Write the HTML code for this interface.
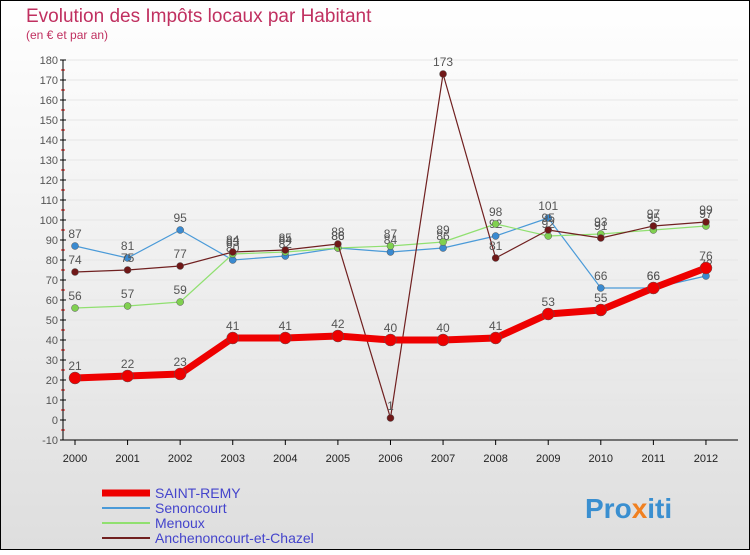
<!DOCTYPE html>
<html><head><meta charset="utf-8"><style>
body{margin:0;width:750px;height:550px;overflow:hidden;font-family:"Liberation Sans",sans-serif}
svg text{font-family:"Liberation Sans",sans-serif}
</style></head><body>
<svg id="c" width="750" height="550">
<defs><linearGradient id="bg" x1="0" y1="0" x2="0" y2="1"><stop offset="0" stop-color="#ffffff"/><stop offset="1" stop-color="#dedede"/></linearGradient></defs>
<rect x="0.5" y="0.5" width="749" height="549" fill="url(#bg)" stroke="#000"/>
<text x="26" y="22" font-size="19" fill="#c03060">Evolution des Impôts locaux par Habitant</text>
<text x="26" y="39" font-size="12" fill="#c03060">(en € et par an)</text>
<g id="g"></g>
<text x="585" y="518" font-size="28" font-weight="bold" fill="#3a8fd0">Pro<tspan fill="#f08020">x</tspan>iti</text>
</svg>
<script>
const years=["2000","2001","2002","2003","2004","2005","2006","2007","2008","2009","2010","2011","2012"];
const yTicks=[-10,0,10,20,30,40,50,60,70,80,90,100,110,120,130,140,150,160,170,180];
const saintRemy=[21,22,23,41,41,42,40,40,41,53,55,66,76];
const senoncourt=[87,81,95,80,82,86,84,86,92,101,66,66,72];
const menoux=[56,57,59,83,84,86,87,89,98,92,93,95,97];
const anchenoncourt=[74,75,77,84,85,88,1,173,81,95,91,97,99];
const NS="http://www.w3.org/2000/svg",g=document.getElementById('g');
const X=i=>75+i*52.58, Y=v=>420-v*2;
function el(t,a,p){const e=document.createElementNS(NS,t);for(const k in a)e.setAttribute(k,a[k]);(p||g).appendChild(e);return e;}
yTicks.forEach(v=>{
 const l=el('line',{x1:63,x2:738,y1:Y(v),y2:Y(v),stroke:'#e6e6e6','stroke-width':1});
 
 
 const t=el('text',{x:58,y:Y(v)+4,'font-size':11,'text-anchor':'end',fill:'#555'});t.textContent=v;
 
 
 el('line',{x1:60,x2:66,y1:Y(v),y2:Y(v),stroke:'#000'});
 if(v<180) el('line',{x1:61,x2:65,y1:Y(v)-10,y2:Y(v)-10,stroke:'#e00'});
});
el('line',{x1:63,x2:63,y1:Y(180),y2:Y(-10),stroke:'#000'});
el('line',{x1:63,x2:738,y1:Y(-10),y2:Y(-10),stroke:'#000'});
years.forEach((y,i)=>{
 el('line',{x1:X(i),x2:X(i),y1:440,y2:445,stroke:'#000'});
 const t=el('text',{x:X(i),y:462,'font-size':11,'text-anchor':'middle',fill:'#222'});t.textContent=y;
 
 
});
function series(d,col,w,r,dot,name){
 const p=el('polyline',{points:d.map((v,i)=>X(i)+','+Y(v)).join(' '),fill:'none',stroke:col,'stroke-width':w,'stroke-linejoin':'round'});
 
 
 d.forEach((v,i)=>{
  const c=el('circle',{cx:X(i),cy:Y(v),r:r,fill:dot,stroke:'#555','stroke-width':0.5});
  
  
  const t=el('text',{x:X(i),y:Y(v)-8,'font-size':12,'text-anchor':'middle',fill:'#555'});t.textContent=v;
  
  
 });
}
series(senoncourt,'#4a9ad8',1.2,3.5,'#3a8ad0','senoncourt');
series(menoux,'#90e070',1.2,3.5,'#80d050','menoux');
series(anchenoncourt,'#702020',1.2,3.5,'#701818','anchenoncourt');
series(saintRemy,'#ee0000',7,6,'#ee0000','saint-remy');
const leg=[['SAINT-REMY','#ee0000',7],['Senoncourt','#4a9ad8',2],['Menoux','#90e070',2],['Anchenoncourt-et-Chazel','#702020',2]];
leg.forEach((l,i)=>{
 const y=493+i*15;
 const ln=el('line',{x1:102,x2:150,y1:y,y2:y,stroke:l[1],'stroke-width':l[2]});
 
 
 const t=el('text',{x:155,y:y+5,'font-size':14,fill:'#4444cc'});t.textContent=l[0];
 
 
});
</script>
</body></html>
